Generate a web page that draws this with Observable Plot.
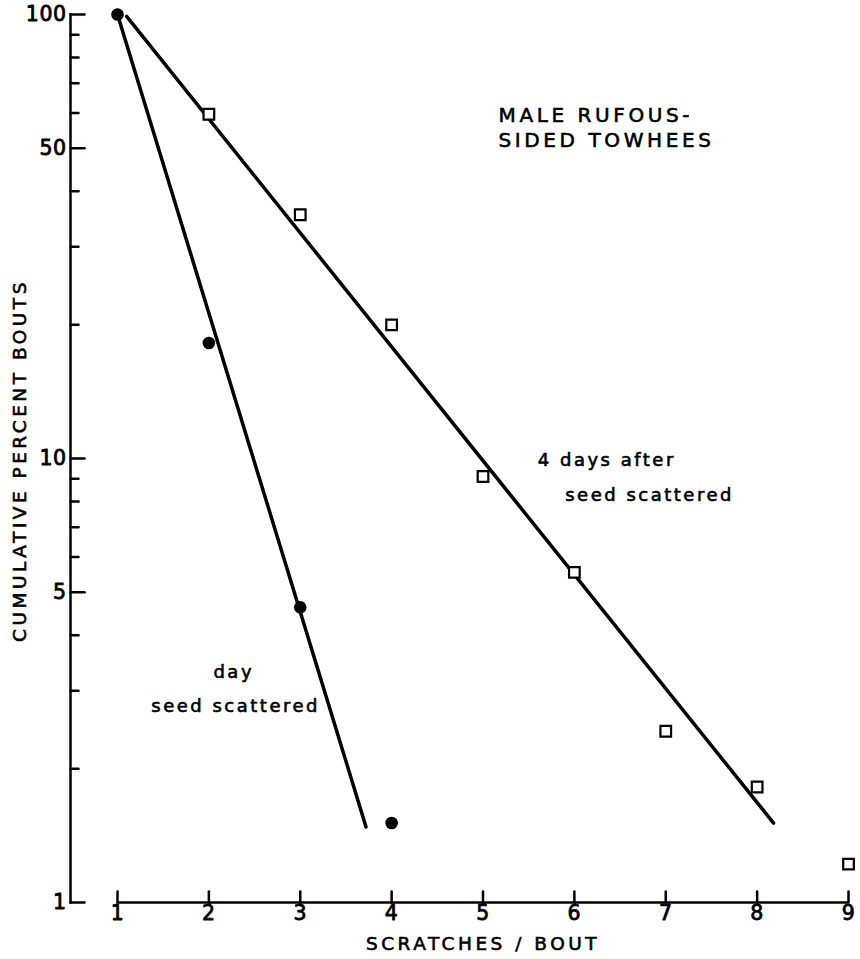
<!DOCTYPE html>
<html><head><meta charset="utf-8">
<script src="https://cdn.jsdelivr.net/npm/d3@7"></script>
<script src="https://cdn.jsdelivr.net/npm/@observablehq/plot@0.6"></script>
<style>
body{margin:0;background:#fff}
svg{font-family:"DejaVu Sans",sans-serif;background:#fff}
g[font-size="20.5"] text{letter-spacing:0.5px}
g[font-size="20"] text{letter-spacing:3.6px}
g[font-size="18"] text{letter-spacing:2.5px}
g[font-size="18.5"] text{letter-spacing:3.5px}
</style></head><body><div id="chart"></div>
<script>
// Day seed scattered (filled circles)
const dayX = [1, 2, 3, 4];
const dayPct = [100, 18.2, 4.62, 1.51];
// 4 days after seed scattered (open squares)
const afterX = [2, 3, 4, 5, 6, 7, 8, 9];
const afterPct = [59.6, 35.4, 20.0, 9.11, 5.54, 2.43, 1.82, 1.22];
// Fitted lines (end points as drawn)
const dayFitX = [1, 3.72];
const dayFitPct = [100, 1.48];
const afterFitX = [1.10, 8.18];
const afterFitPct = [99, 1.51];
// Axes
const xTicks = [1, 2, 3, 4, 5, 6, 7, 8, 9];
const yMajorTicks = [1, 5, 10, 50, 100];
const yMinorTicks = [2, 3, 4, 6, 7, 8, 9, 20, 30, 40, 60, 70, 80, 90];
const xTitle = "SCRATCHES / BOUT";
const yTitle = "CUMULATIVE PERCENT BOUTS";
// Annotations
const titleLines = ["MALE RUFOUS-", "SIDED TOWHEES"];
const titleX = [5.17, 5.17];
const titleY = [59.1, 51.9];
const noteLines = ["4 days after", "seed scattered", "day", "seed scattered"];
const noteX = [5.60, 5.90, 2.05, 1.37];
const noteY = [9.9, 8.28, 3.30, 2.77];

const day = dayX.map((x, i) => ({x, y: dayPct[i]}));
const after = afterX.map((x, i) => ({x, y: afterPct[i]}));
const dayFit = dayFitX.map((x, i) => ({x, y: dayFitPct[i]}));
const afterFit = afterFitX.map((x, i) => ({x, y: afterFitPct[i]}));
const titles = titleLines.map((t, i) => ({t, x: titleX[i], y: titleY[i]}));
const notes = noteLines.map((t, i) => ({t, x: noteX[i], y: noteY[i]}));
const yLabels = yMajorTicks.map(v => ({v, t: String(v)}));
const xLabels = xTicks.map(v => ({v, t: String(v)}));
const xAxisLine = [{y: yMajorTicks[0], x1: xTicks[0], x2: xTicks[xTicks.length - 1]}];

const tickShape = {draw(ctx, l) { ctx.moveTo(0, 0); ctx.lineTo(0, -l); }};
const ink = {fill: "#000", stroke: "#000", strokeWidth: 0.6};

const chart = Plot.plot({
  width: 860, height: 959,
  marginLeft: 70, marginRight: 12, marginTop: 14, marginBottom: 57,
  x: {domain: [1, 9], range: [117, 848], axis: null},
  y: {type: "log", domain: [1, 100], axis: null},
  marks: [
    Plot.frame({anchor: "left", strokeWidth: 2.5, stroke: "#000"}),
    Plot.vector(yMajorTicks, {y: d => d, frameAnchor: "left", rotate: 90, length: 14, anchor: "start", shape: tickShape, strokeWidth: 2.5, stroke: "#000"}),
    Plot.vector(yMinorTicks, {y: d => d, frameAnchor: "left", rotate: 90, length: 8, anchor: "start", shape: tickShape, strokeWidth: 2.5, stroke: "#000"}),
    Plot.text(yLabels, {y: "v", text: "t", frameAnchor: "left", textAnchor: "end", lineAnchor: "middle", dx: -4, fontSize: 20.5, fill: "#000", stroke: "#000", strokeWidth: 0.8}),
    Plot.ruleY(xAxisLine, {y: "y", x1: "x1", x2: "x2", strokeWidth: 2.5, stroke: "#000"}),
    Plot.vector(xTicks, {x: d => d, frameAnchor: "bottom", length: 11, anchor: "start", shape: tickShape, strokeWidth: 2.5, stroke: "#000"}),
    Plot.text(xLabels, {x: "v", text: "t", frameAnchor: "bottom", textAnchor: "middle", lineAnchor: "top", dy: 3, fontSize: 20.5, fill: "#000", stroke: "#000", strokeWidth: 0.8}),
    Plot.text([xTitle], {text: d => d, x: d3.mean([xTicks[0], xTicks[xTicks.length - 1]]), frameAnchor: "bottom", textAnchor: "middle", lineAnchor: "middle", dy: 42, fontSize: 18.5, ...ink}),
    Plot.text([yTitle], {text: d => d, frameAnchor: "left", textAnchor: "middle", lineAnchor: "middle", dx: -50, dy: 2, rotate: -90, fontSize: 18.5, ...ink}),
    Plot.line(dayFit, {x: "x", y: "y", strokeWidth: 3.5, stroke: "#000"}),
    Plot.line(afterFit, {x: "x", y: "y", strokeWidth: 3.5, stroke: "#000"}),
    Plot.dot(day, {x: "x", y: "y", r: 6.3, fill: "#000", stroke: null}),
    Plot.dot(after, {x: "x", y: "y", symbol: "square", r: 6, fill: "#fff", stroke: "#000", strokeWidth: 2.2}),
    Plot.text(titles, {x: "x", y: "y", text: "t", textAnchor: "start", fontSize: 20, ...ink}),
    Plot.text(notes, {x: "x", y: "y", text: "t", textAnchor: "start", fontSize: 18, ...ink})
  ]
});
document.getElementById("chart").appendChild(chart);
</script>
</body></html>
